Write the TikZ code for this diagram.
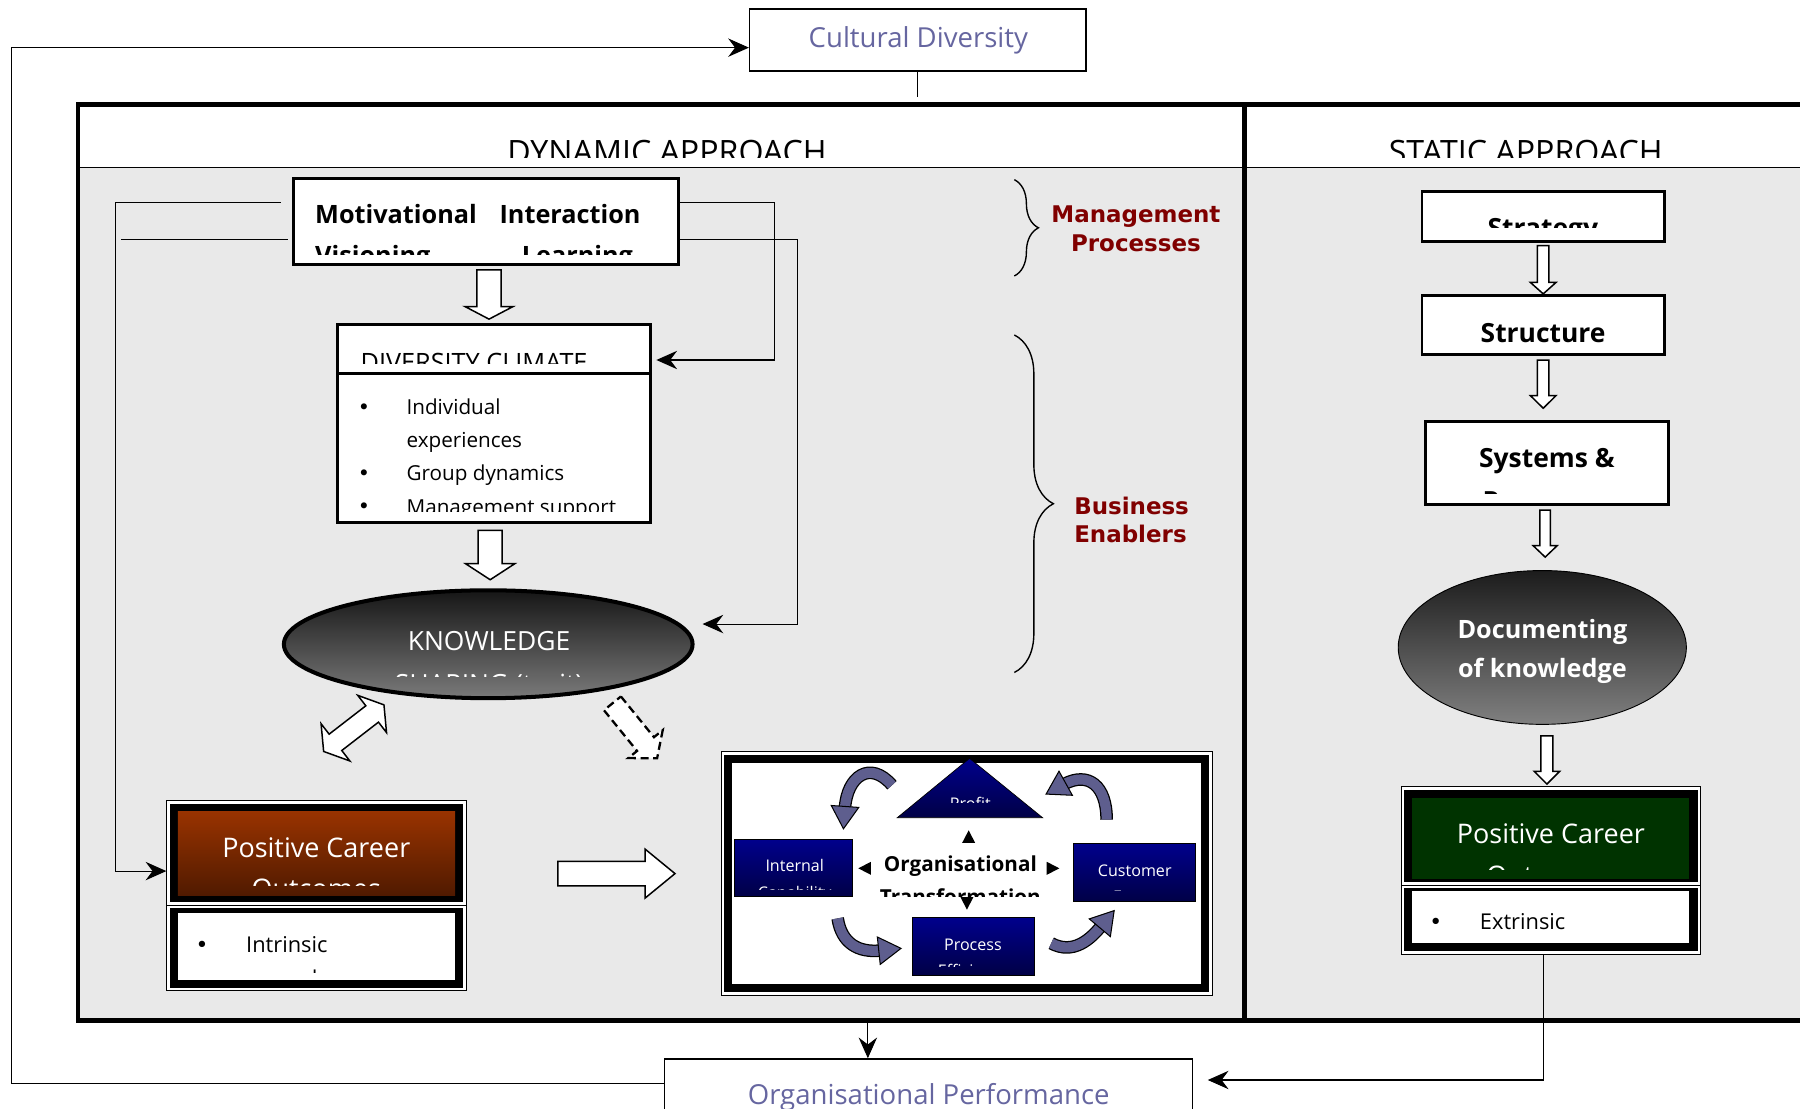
\documentclass[tikz,border=0pt]{standalone}
\usepackage{fontspec}
\setmainfont{Open Sans}
\newfontfamily\dejavu{DejaVu Sans}
\usetikzlibrary{arrows.meta,shapes.geometric,decorations.pathreplacing}
\newcommand{\fsz}[1]{\fontsize{#1}{#1}\selectfont}
% hollow block arrow: style, tail, angle, length, shaft half-width, head half-width, head length
\newcommand{\blockarrow}[7]{\draw[#1,shift={#2},rotate=#3] (0,-#5) -- ({#4-#7},-#5) -- ({#4-#7},-#6) -- (#4,0) -- ({#4-#7},#6) -- ({#4-#7},#5) -- (0,#5) -- cycle;}
% double-headed block arrow: style, centre, angle, length, shaft half-width, head half-width, head length
\newcommand{\twinarrow}[7]{\draw[#1,shift={#2},rotate=#3] ({-#4/2},0) -- ({-#4/2+#7},-#6) -- ({-#4/2+#7},-#5) -- ({#4/2-#7},-#5) -- ({#4/2-#7},-#6) -- ({#4/2},0) -- ({#4/2-#7},#6) -- ({#4/2-#7},#5) -- ({-#4/2+#7},#5) -- ({-#4/2+#7},#6) -- cycle;}
% curved band arrow: path, head base, head angle
\newcommand{\loopedarrow}[3]{\draw[line width=11pt] #1; \draw[line width=8.8pt,slate] #1; \filldraw[fill=slate,draw=black,line width=0.9pt,shift={#2},rotate=#3] (-1.5,-12) -- (18,0) -- (-1.5,12) -- cycle;}
\newcommand{\bul}{{\dejavu •}}

\definecolor{bggray}{RGB}{233,233,233}
\definecolor{cdblue}{RGB}{102,102,160}
\definecolor{dred}{RGB}{128,0,0}
\definecolor{nvT}{RGB}{0,0,140}
\definecolor{nvB}{RGB}{0,0,70}
\definecolor{slate}{RGB}{94,94,142}
\definecolor{brT}{RGB}{153,51,0}
\definecolor{brB}{RGB}{80,26,0}
\definecolor{grn}{RGB}{0,51,0}
\definecolor{kT}{RGB}{22,22,22}
\definecolor{kB}{RGB}{122,122,122}
\definecolor{dT}{RGB}{28,28,28}
\definecolor{dB}{RGB}{128,128,128}

\begin{document}
\begin{tikzpicture}[x=1pt,y=-1pt,
  ln/.style={line width=0.9pt},
  tipA/.style={-{Stealth[length=18pt,width=16pt,inset=6pt]}},
  hol/.style={draw=black,fill=white,line width=1.3pt,line join=miter},
  t/.style={inner sep=0pt,anchor=base},
  tl/.style={inner sep=0pt,anchor=base west},
  sq/.style={draw=black,fill=white,line width=2.6pt,inner sep=0pt},
  frm/.style={draw=black,fill=white,line width=0.8pt,inner sep=0pt},
  navy/.style={draw=black,line width=0.6pt,top color=nvT,bottom color=nvB,inner sep=0pt},
  wtxt/.style={text=white},
]
\useasboundingbox (0,0) rectangle (1568,966);
\clip (0,0) rectangle (1568,966);
\fill[white] (0,0) rectangle (1568,966);

% ---------- main frame ----------
\fill[bggray] (68,146) rectangle (1572,889);
\draw[line width=0.8pt] (68,146) -- (1572,146);
\draw[line width=4pt] (1572,91) -- (68,91) -- (68,889) -- (1572,889);
\draw[line width=4pt] (1084,91) -- (1084,889);
\begin{scope}
  \clip (70,100) rectangle (1568,137.5);
  \node[t,font=\fsz{28}] (dyn) at (581,142) {DYNAMIC APPROACH};
  \node[t,font=\fsz{28}] (sta) at (1329,142) {STATIC APPROACH};
\end{scope}

% ---------- outer boxes ----------
\node[draw,fill=white,line width=1.3pt,minimum width=293pt,minimum height=54pt,inner sep=0pt] (cult) at (799.5,35) {};
\node[t,font=\fsz{24},text=cdblue] at (800,41.5) {Cultural Diversity};
\node[draw,fill=white,line width=1.3pt,minimum width=460pt,minimum height=70pt,inner sep=0pt] (perf) at (809,957.5) {};
\node[t,font=\fsz{24},text=cdblue] at (809,962.3) {Organisational Performance};

% ---------- management processes ----------
\node[sq,minimum width=335.4pt,minimum height=74.9pt] (mot) at (423.2,192.9) {};
\node[tl,font=\bfseries\fsz{22}] at (274.4,195) {Motivational};
\node[tl,font=\bfseries\fsz{22}] at (435,195) {Interaction};
\begin{scope}
  \clip (258,150) rectangle (589,221.3);
  \node[tl,font=\bfseries\fsz{22}] at (274.4,230) {Visioning};
  \node[tl,font=\bfseries\fsz{22}] at (454.4,230) {Learning};
\end{scope}

% ---------- diversity climate ----------
\node[sq,minimum width=273pt,minimum height=42pt] (divh) at (430.5,304) {};
\node[sq,minimum width=273pt,minimum height=130.5pt] (divb) at (430.5,390.25) {};
\begin{scope}
  \clip (296,285) rectangle (565,317);
  \node[tl,font=\fsz{22}] at (314,323.5) {DIVERSITY CLIMATE};
\end{scope}
\node[t,font=\fsz{18}] at (317,361.5) {\bul};
\node[tl,font=\fsz{18}] at (354,361.5) {Individual};
\node[tl,font=\fsz{18}] at (354,389.5) {experiences};
\node[t,font=\fsz{18}] at (317,418.7) {\bul};
\node[tl,font=\fsz{18}] at (354,418.7) {Group dynamics};
\begin{scope}
  \clip (296,327) rectangle (565,446);
  \node[t,font=\fsz{18}] at (317,447) {\bul};
  \node[tl,font=\fsz{18}] at (354,448) {Management support};
\end{scope}

% ---------- knowledge sharing ----------
\node[ellipse,draw,line width=3.5pt,top color=kT,bottom color=kB,minimum width=356pt,minimum height=94pt,inner sep=0pt] (know) at (425.3,561.2) {};
\node[t,wtxt,font=\fsz{23}] at (426,567) {KNOWLEDGE};
\begin{scope}
  \clip (250,520) rectangle (600,589);
  \node[t,wtxt,font=\fsz{23}] at (426,604.5) {SHARING (tacit)};
\end{scope}

% ---------- positive career outcomes (dynamic) ----------
\node[frm,minimum width=260.7pt,minimum height=90.9pt] (pcoLt) at (275.65,742.95) {};
\fill[black] ([shift={(3pt,-3pt)}]pcoLt.north west) rectangle ([shift={(-3pt,3pt)}]pcoLt.south east);
\shade[top color=brT,bottom color=brB] ([shift={(10pt,-9.5pt)}]pcoLt.north west) rectangle ([shift={(-10pt,8.7pt)}]pcoLt.south east);
\node[frm,minimum width=260.7pt,minimum height=74.6pt] (pcoLb) at (275.65,825.7) {};
\fill[black] ([shift={(3pt,-3pt)}]pcoLb.north west) rectangle ([shift={(-3pt,3pt)}]pcoLb.south east);
\fill[white] ([shift={(10pt,-7.6pt)}]pcoLb.north west) rectangle ([shift={(-10pt,9.3pt)}]pcoLb.south east);
\node[t,wtxt,font=\fsz{23.5}] at (275.5,746.8) {Positive Career};
\begin{scope}
  \clip (156,708) rectangle (395,771);
  \node[t,wtxt,font=\fsz{23.5}] at (275.5,782.5) {Outcomes};
\end{scope}
\node[t,font=\fsz{19}] at (176,829.6) {\bul};
\node[tl,font=\fsz{19}] at (214.3,829.6) {Intrinsic};
\begin{scope}
  \clip (156,797) rectangle (395,847.5);
  \node[tl,font=\fsz{19}] at (214.3,859.5) {rewards};
\end{scope}

% ---------- organisational transformation ----------
\node[frm,minimum width=427.6pt,minimum height=212pt] (otf) at (842.2,760.8) {};
\fill[black] ([shift={(3pt,-3pt)}]otf.north west) rectangle ([shift={(-3pt,3pt)}]otf.south east);
\fill[white] ([shift={(9.9pt,-10.2pt)}]otf.north west) rectangle ([shift={(-9.8pt,10.2pt)}]otf.south east);
\shade[top color=nvT,bottom color=nvB,draw=black,line width=0.6pt] (844.6,660.6) coordinate (prof) -- (908.2,712.3) -- (781.6,712.3) -- cycle;
\begin{scope}
  \clip (782,662) rectangle (908,699);
  \node[t,wtxt,font=\fsz{14}] at (845.3,705.5) {Profit};
\end{scope}
\node[navy,minimum width=102.8pt,minimum height=50pt] (intl) at (691.2,756) {};
\node[t,wtxt,font=\fsz{14}] at (692.3,759.3) {Internal};
\begin{scope}
  \clip (641,733) rectangle (742,774.5);
  \node[t,wtxt,font=\fsz{14}] at (692.3,782.5) {Capability};
\end{scope}
\node[navy,minimum width=105.9pt,minimum height=50.5pt] (cust) at (988.25,760.25) {};
\node[t,wtxt,font=\fsz{14}] at (988.5,763.7) {Customer};
\begin{scope}
  \clip (937,737) rectangle (1040,775.5);
  \node[t,wtxt,font=\fsz{14}] at (988.5,786) {Focus};
\end{scope}
\node[navy,minimum width=105.7pt,minimum height=49.9pt] (proc) at (847.85,824.35) {};
\node[t,wtxt,font=\fsz{14}] at (847.5,827.6) {Process};
\begin{scope}
  \clip (797,801) rectangle (899,842);
  \node[t,wtxt,font=\fsz{14}] at (847.5,850.5) {Efficiency};
\end{scope}
\node[t,font=\bfseries\fsz{18}] (orgt) at (836.6,759.3) {Organisational};
\begin{scope}
  \clip (760,762) rectangle (915,781);
  \node[t,font=\bfseries\fsz{18}] at (836.6,788.3) {Transformation};
\end{scope}
% small pointers around the centre label
\fill[shift={(843.8,728.8)}] (0,-5.5) -- (5.7,5.5) -- (-5.7,5.5) -- cycle;
\fill[shift={(842.3,786.9)}] (0,5.5) -- (5.7,-5.5) -- (-5.7,-5.5) -- cycle;
\fill[shift={(753.2,756.4)}] (-5.5,0) -- (5.5,-5.7) -- (5.5,5.7) -- cycle;
\fill[shift={(917.3,756.4)}] (5.5,0) -- (-5.5,-5.7) -- (-5.5,5.7) -- cycle;
% cycle of curved arrows
\loopedarrow{(777,684) .. controls (758,662) and (738,676) .. (736,704)}{(736,704)}{-94}
\loopedarrow{(964,714) .. controls (964,684) and (948,672) .. (927,683)}{(927,683)}{-151}
\loopedarrow{(729.7,800) .. controls (733,822) and (748,830) .. (767,828)}{(767,828)}{6}
\loopedarrow{(915.7,821.7) .. controls (935,832) and (950,818) .. (959,807)}{(959,807)}{50}

% ---------- static approach ----------
\node[sq,minimum width=211pt,minimum height=43.3pt] (strat) at (1344.2,188.4) {};
\begin{scope}
  \clip (1241,169) rectangle (1447,198.5);
  \node[t,font=\bfseries\fsz{23}] at (1344,207.3) {Strategy};
\end{scope}
\node[sq,minimum width=211pt,minimum height=50.8pt] (struc) at (1344.2,283) {};
\node[t,font=\bfseries\fsz{23}] at (1344.2,298) {Structure};
\node[sq,minimum width=211pt,minimum height=72.3pt] (sys) at (1347.5,403.2) {};
\node[t,font=\bfseries\fsz{23}] at (1347.5,407.6) {Systems \&};
\begin{scope}
  \clip (1244,369) rectangle (1451,430);
  \node[t,font=\bfseries\fsz{23}] at (1347.5,444.3) {Processes};
\end{scope}
\node[ellipse,draw,line width=0.8pt,top color=dT,bottom color=dB,minimum width=251pt,minimum height=134pt,inner sep=0pt] (doc) at (1343.5,564) {};
\node[t,wtxt,font=\bfseries\fsz{22}] at (1343.6,556.3) {Documenting};
\node[t,wtxt,font=\bfseries\fsz{22}] at (1343.6,590.5) {of knowledge};

\node[frm,minimum width=260.7pt,minimum height=85.7pt] (pcoRt) at (1351.15,728.15) {};
\fill[black] ([shift={(3pt,-3pt)}]pcoRt.north west) rectangle ([shift={(-3pt,3pt)}]pcoRt.south east);
\fill[grn] ([shift={(9.7pt,-10.2pt)}]pcoRt.north west) rectangle ([shift={(-10.2pt,6pt)}]pcoRt.south east);
\node[frm,minimum width=260.7pt,minimum height=60.3pt] (pcoRb) at (1351.15,801.15) {};
\fill[black] ([shift={(3pt,-3pt)}]pcoRb.north west) rectangle ([shift={(-3pt,3pt)}]pcoRb.south east);
\fill[white] ([shift={(9.7pt,-5.8pt)}]pcoRb.north west) rectangle ([shift={(-10.2pt,10.1pt)}]pcoRb.south east);
\node[t,wtxt,font=\fsz{23.5}] at (1351,734.6) {Positive Career};
\begin{scope}
  \clip (1231,696) rectangle (1471,757.5);
  \node[t,wtxt,font=\fsz{23.5}] at (1351,771) {Outcomes};
\end{scope}
\node[t,font=\fsz{19}] at (1250.7,809.6) {\bul};
\node[tl,font=\fsz{19}] at (1289,809.6) {Extrinsic};

% ---------- braces and labels ----------
\draw[line width=1.2pt,decorate,decoration={brace,amplitude=21pt}] (883.6,156.5) -- (883.6,240.4);
\draw[line width=1.2pt,decorate,decoration={brace,amplitude=34pt}] (883.6,291.8) -- (883.6,585.8);
\node[t,font=\dejavu\bfseries\fsz{20},text=dred] at (989.5,193.8) {Management};
\node[t,font=\dejavu\bfseries\fsz{20},text=dred] at (989.5,218.7) {Processes};
\node[tl,font=\dejavu\bfseries\fsz{20},text=dred] at (935.6,448) {Business};
\node[tl,font=\dejavu\bfseries\fsz{20},text=dred] at (935.6,472.9) {Enablers};

% ---------- hollow block arrows ----------
\blockarrow{hol}{(426,235)}{-90}{43}{10.5}{21}{11}
\blockarrow{hol}{(427,462)}{-90}{43}{10.5}{21.5}{14}
\blockarrow{hol}{(486,761)}{0}{102}{10.6}{21.3}{26}
\twinarrow{hol}{(308.2,634.3)}{37.7}{66.4}{9}{20.5}{13}
\blockarrow{hol,dashed,dash pattern=on 7pt off 4pt,line width=2pt}{(533.5,612.7)}{-50.9}{61.7}{9.5}{19.3}{16}
\blockarrow{hol}{(1344.3,214)}{-90}{42}{5}{11.2}{10}
\blockarrow{hol}{(1344.3,313.6)}{-90}{42}{5}{11.2}{11}
\blockarrow{hol}{(1346,444.3)}{-90}{41}{4.6}{10.5}{10}
\blockarrow{hol}{(1347.5,641)}{-90}{42}{5.2}{11}{11}

% ---------- connectors ----------
\draw[ln,tipA] ([yshift=-21.8pt]perf.north west) -| (10,41.5) -- ([yshift=-6.5pt]cult.west);
\draw[ln] (cult.south) -- ++(0,22);
\coordinate (fb) at (756,889);
\draw[ln,tipA] (fb) -- (fb |- perf.north);
\draw[ln,tipA] ([xshift=-7pt]pcoRb.south) |- ([xshift=12.5pt,yshift=16.7pt]perf.east);
\draw[ln,tipA] ([xshift=-9.5pt,yshift=16.9pt]mot.west) -| ([xshift=-44pt,yshift=-15.85pt]pcoLt.west) -- ([yshift=-15.85pt]pcoLt.west);
\draw[ln] ([xshift=-3.5pt,yshift=-16.1pt]mot.west) -- (105,209);
\draw[ln,tipA] ([yshift=16.9pt]mot.east) -| (675,313.6) -- ([xshift=3.5pt,yshift=-9.6pt]divh.east);
\coordinate (kin) at (612,543.6);
\draw[ln,tipA] ([yshift=-16.1pt]mot.east) -| (695,543.6) -- (kin);
\end{tikzpicture}
\end{document}
